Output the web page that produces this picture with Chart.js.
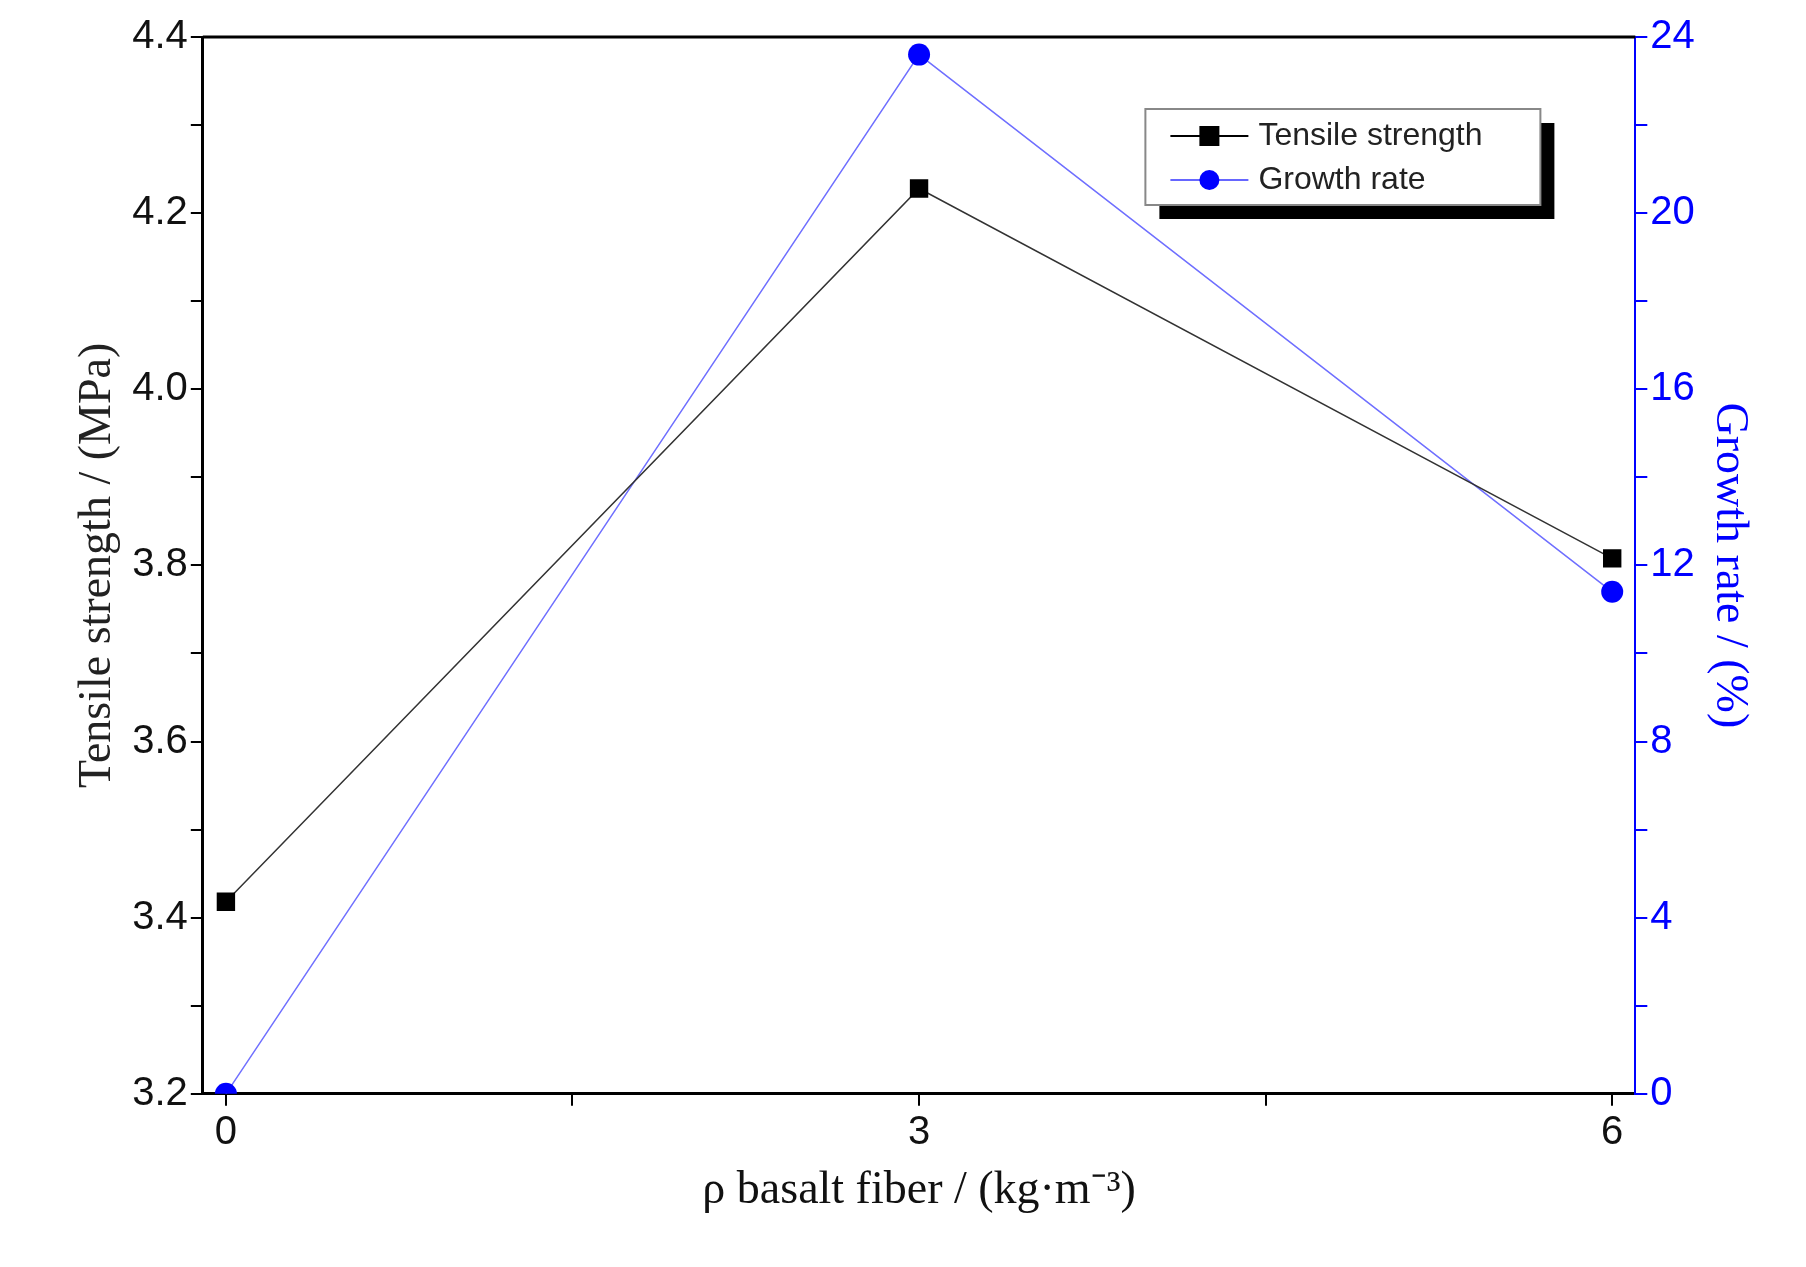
<!DOCTYPE html>
<html>
<head>
<meta charset="utf-8">
<script src="https://cdn.jsdelivr.net/npm/chart.js@4"></script>
<style>
  html, body { margin: 0; padding: 0; background: #fff; }
  #wrap { width: 1806px; height: 1267px; }
</style>
</head>
<body>
<div id="wrap"><canvas id="myChart"></canvas></div>
<script>
const fiberContent = [0, 3, 6];
const tensileStrength = [3.418, 4.228, 3.808];
const growthRate = [0, 23.6, 11.4];
const xTickLabels = ['0', '3', '6'];

const tickFont = {family: 'Arial, Liberation Sans', size: 40};

// legend box drawn inside the plot, like the original figure
const boxLegend = {
  id: 'boxLegend',
  afterDraw(chart) {
    const ctx = chart.ctx;
    const a = chart.chartArea;
    const x = a.left + (a.right - a.left) * 0.658, y = a.top + 72, w = 395, h = 96;
    ctx.save();
    ctx.fillStyle = '#000';
    ctx.fillRect(x + 14, y + 14, w, h);
    ctx.fillStyle = '#fff';
    ctx.fillRect(x, y, w, h);
    ctx.strokeStyle = '#888';
    ctx.lineWidth = 2;
    ctx.strokeRect(x, y, w, h);
    ctx.font = '32px Arial, Liberation Sans';
    ctx.textBaseline = 'middle';
    const rows = [
      {label: 'Tensile strength', color: '#000', shape: 'rect'},
      {label: 'Growth rate', color: '#0000ff', shape: 'circle'}
    ];
    rows.forEach((r, i) => {
      const cy = y + 27 + i * 44;
      ctx.strokeStyle = r.color === '#000' ? '#000' : '#6666ff';
      ctx.lineWidth = 2;
      ctx.beginPath();
      ctx.moveTo(x + 25, cy); ctx.lineTo(x + 103, cy); ctx.stroke();
      ctx.fillStyle = r.color;
      if (r.shape === 'rect') ctx.fillRect(x + 54, cy - 10, 20, 20);
      else { ctx.beginPath(); ctx.arc(x + 64, cy, 10, 0, Math.PI * 2); ctx.fill(); }
      ctx.fillStyle = '#222';
      ctx.fillText(r.label, x + 113, cy);
    });
    ctx.restore();
  }
};

new Chart(document.getElementById('myChart'), {
  type: 'line',
  data: {
    datasets: [{
      label: 'Tensile strength',
      data: fiberContent.map((x, i) => ({x: x, y: tensileStrength[i]})),
      borderColor: '#333',
      backgroundColor: '#000',
      borderWidth: 1.5,
      pointStyle: 'rect',
      pointRadius: 13,
      pointBorderWidth: 0,
      yAxisID: 'y'
    }, {
      label: 'Growth rate',
      data: fiberContent.map((x, i) => ({x: x, y: growthRate[i]})),
      borderColor: '#6f6fff',
      backgroundColor: '#0000ff',
      borderWidth: 1.5,
      pointStyle: 'circle',
      pointRadius: 11,
      pointBorderWidth: 0,
      yAxisID: 'y1'
    }]
  },
  options: {
    responsive: true,
    maintainAspectRatio: false,
    animation: false,
    layout: {padding: {left: 66, right: 45, top: 37, bottom: 44}},
    plugins: {legend: {display: false}, tooltip: {enabled: false}},
    scales: {
      x: {
        type: 'linear', min: -0.1, max: 6.1,
        afterBuildTicks: s => { s.ticks = [0, 1.5, 3, 4.5, 6].map(v => ({value: v})); },
        ticks: {font: tickFont, color: '#111', maxRotation: 0,
          callback: v => Number.isInteger(v) ? xTickLabels[fiberContent.indexOf(v)] : ''},
        grid: {drawOnChartArea: false, color: '#000', tickLength: 12, lineWidth: 2},
        border: {color: '#000', width: 3},
        title: {display: true, text: 'ρ basalt fiber / (kg·m⁻³)',
          font: {family: 'Liberation Serif', size: 46}, color: '#111'}
      },
      y: {
        position: 'left', min: 3.2, max: 4.4,
        afterBuildTicks: s => { s.ticks = []; for (let i = 0; i <= 12; i++) s.ticks.push({value: 3.2 + i * 0.1}); },
        ticks: {font: tickFont, color: '#111',
          callback: (v, i) => i % 2 === 0 ? v.toFixed(1) : ''},
        grid: {drawOnChartArea: false, color: '#000', tickLength: 12, lineWidth: 2},
        border: {color: '#000', width: 3},
        title: {display: true, text: 'Tensile strength / (MPa)',
          font: {family: 'Liberation Serif', size: 46}, color: '#222'}
      },
      y1: {
        position: 'right', min: 0, max: 24,
        afterBuildTicks: s => { s.ticks = []; for (let v = 0; v <= 24; v += 2) s.ticks.push({value: v}); },
        ticks: {font: tickFont, color: '#0000ff',
          callback: v => v % 4 === 0 ? String(v) : ''},
        grid: {drawOnChartArea: false, color: '#0000ff', tickLength: 12, lineWidth: 2},
        border: {color: '#0000ff', width: 2},
        title: {display: true, text: 'Growth rate / (%)',
          font: {family: 'Liberation Serif', size: 46}, color: '#0000ff'}
      }
    }
  },
  plugins: [boxLegend, {
    id: 'topBorder',
    afterDraw(chart) {
      const a = chart.chartArea, ctx = chart.ctx;
      ctx.save(); ctx.strokeStyle = '#000'; ctx.lineWidth = 3;
      ctx.beginPath(); ctx.moveTo(a.left, a.top); ctx.lineTo(a.right, a.top); ctx.stroke();
      ctx.restore();
    }
  }]
});
</script>
</body>
</html>
